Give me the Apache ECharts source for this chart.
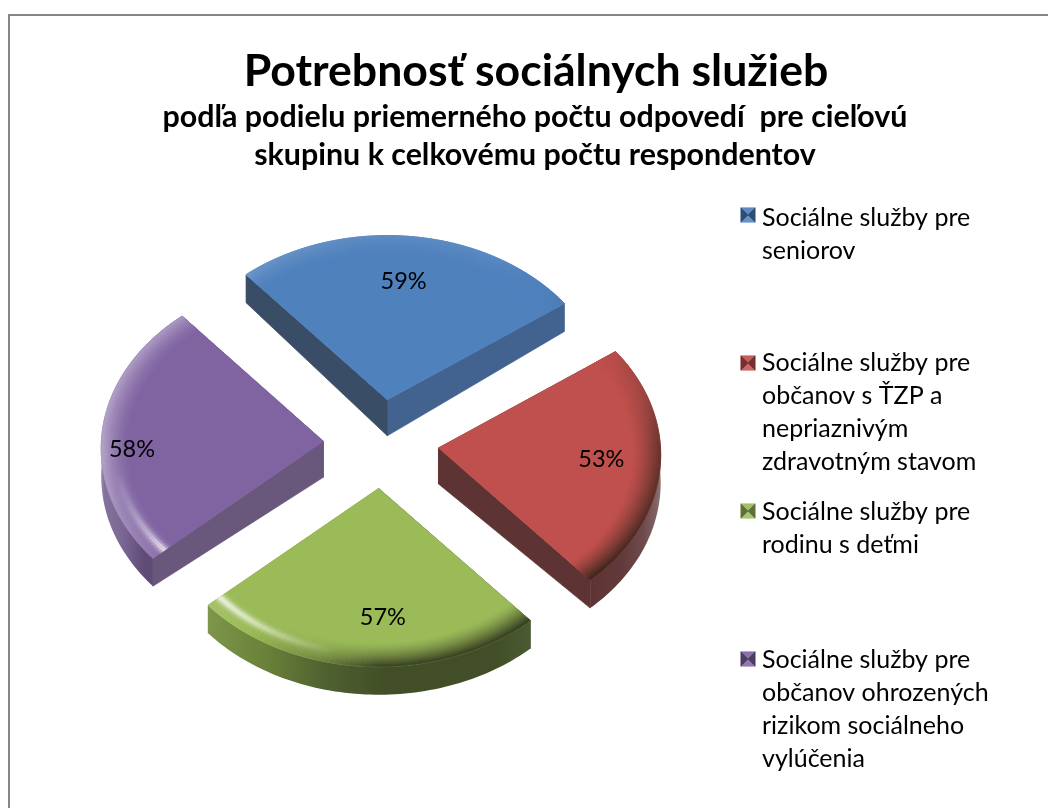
<!DOCTYPE html>
<html>
<head>
<meta charset="utf-8">
<style>html,body{margin:0;padding:0;background:#fff}#c{width:1048px;height:808px}</style>
<script src="https://cdn.jsdelivr.net/npm/echarts@6/dist/echarts.min.js"></script>
</head>
<body>
<div id="c"></div>
<script>
const titleText = 'Potrebnosť sociálnych služieb';
const subtitleText = 'podľa podielu priemerného počtu odpovedí  pre cieľovú\nskupinu k celkovému počtu respondentov';
const categories = [
  'Sociálne služby pre seniorov',
  'Sociálne služby pre občanov s ŤZP a nepriaznivým zdravotným stavom',
  'Sociálne služby pre rodinu s deťmi',
  'Sociálne služby pre občanov ohrozených rizikom sociálneho vylúčenia'
];
const legendLines = [
  'Sociálne služby pre\nseniorov',
  'Sociálne služby pre\nobčanov s ŤZP a\nnepriaznivým\nzdravotným stavom',
  'Sociálne služby pre\nrodinu s deťmi',
  'Sociálne služby pre\nobčanov ohrozených\nrizikom sociálneho\nvylúčenia'
];
const values = [59, 53, 57, 58];
const colors = ['#4f81bd', '#c0504d', '#9bbb59', '#8064a2'];

// drawing layout
const FONT = 'Lato, Carlito, "Open Sans", sans-serif';
const CX = 381, CY = 444, RX = 222, RY = 171, PERSP = 0.041, EXPLODE = 0.26;
const START = 130.5, BAND = 0.13, DEPTH_APEX = 36, DEPTH_RIM = 28;
const boundaryTrim = [0.5, -1.7, -1.4, -0.8, 0.5];
const legendTops = [196, 341, 490, 638];
const keyTops = [208, 356, 504, 652];
const KEY_X = 741, KEY_SIZE = 14;
const labelShift = [[-1, 2], [1, 0], [11, 0], [1, 17]];
const labelRadius = [0.73, 0.73, 0.73, 0.87];
const softScale = [0.55, 1, 1, 1];
// side colours along the visible rim: [angle, colour]
const rimStops = [
  [[-360, '#3f5f88'], [360, '#3f5f88']],
  [[-50, '#5e3333'], [-36, '#633a3b'], [-25, '#6f4a4c'], [-15, '#7f6062'], [-5, '#8a7275'], [2, '#8a7275']],
  [[-140, '#7d964a'], [-120, '#6a8239'], [-103, '#4f6030'], [-88, '#414e27'], [-60, '#414e27'], [-46, '#4b5a30']],
  [[-182, '#928aa2'], [-168, '#84729c'], [-152, '#7a6692'], [-142, '#5f4b76'], [-136, '#5f4b76']]
];
const edgeColors = [
  ['#426290', '#3a4d66'],   // clockwise-end edge, clockwise-start edge
  ['#5e3333', '#5e3333'],
  ['#7d964a', '#4b5a30'],
  ['#69577c', '#69577c']
];
const softStops = [
  [-230, 0.16], [-175, 0.2], [-150, 0.12], [-125, 0], [-105, -0.3], [-90, -0.7], [-60, -0.72], [-46, -0.75],
  [-25, -0.62], [0, -0.5], [18, -0.22], [36, -0.05], [60, 0.06], [100, 0.08], [130, 0.14]
];
const specStops = [
  [-230, 0], [-170, 0], [-156, 0.25], [-146, 0.55], [-138, 0.95], [-128, 0.75], [-115, 0.35], [-102, 0], [130, 0]
];

function rgb(c) { return [1, 3, 5].map(i => parseInt(c.substr(i, 2), 16)); }
function mix(a, b, t) {
  const A = rgb(a), B = rgb(b);
  return '#' + A.map((v, i) => Math.round(v + (B[i] - v) * t).toString(16).padStart(2, '0')).join('');
}
function interp(stops, a, pick) {
  if (a <= stops[0][0]) return stops[0][1];
  for (let i = 1; i < stops.length; i++) {
    if (a <= stops[i][0]) {
      const t = (a - stops[i - 1][0]) / (stops[i][0] - stops[i - 1][0]);
      return pick(stops[i - 1][1], stops[i][1], t);
    }
  }
  return stops[stops.length - 1][1];
}
const lerp = (p, q, t) => p + (q - p) * t;
const total = values.reduce((a, b) => a + b, 0);
function sliceAngles(idx) {
  let s = START;
  for (let i = 0; i < idx; i++) s -= values[i] / total * 360;
  return [s, s - values[idx] / total * 360];
}
function project(apex, deg, r, down) {
  const a = deg * Math.PI / 180, u = Math.cos(a) * r, v = Math.sin(a) * r;
  const w = 1 + PERSP * v;
  return [apex[0] + RX * u / w, apex[1] - RY * v / w + (down || 0)];
}
function poly(points, fill, strokeW) {
  return { type: 'polygon', shape: { points }, silent: true,
    style: { fill, stroke: typeof fill === 'string' ? fill : null, lineWidth: strokeW == null ? 0.7 : strokeW } };
}
function norm(a, stops) {
  while (a < stops[0][0]) a += 360;
  while (a > stops[stops.length - 1][0]) a -= 360;
  return a;
}

function renderSlice(idx) {
  return function () {
    const [rawA0, rawA1] = sliceAngles(idx);
    const a0 = rawA0 + boundaryTrim[idx], a1 = rawA1 + boundaryTrim[idx + 1];
    const mid = (rawA0 + rawA1) / 2, mr = mid * Math.PI / 180;
    const apex = [CX + EXPLODE * RX * Math.cos(mr), CY - EXPLODE * RY * Math.sin(mr)];
    const base = colors[idx];
    const kids = [];
    const N = 72;
    const ang = i => a0 + (a1 - a0) * i / N;
    // radial walls
    [[a1, edgeColors[idx][0]], [a0, edgeColors[idx][1]]].forEach(([a, col]) => {
      kids.push(poly([apex, project(apex, a, 1), project(apex, a, 1, DEPTH_RIM), [apex[0], apex[1] + DEPTH_APEX]], col));
    });
    // outer rim wall, one polygon with a horizontal gradient (front-facing part only)
    const front = [];
    for (let i = 0; i <= N; i++) if (Math.sin(ang(i) * Math.PI / 180) < 0.04) front.push(ang(i));
    if (front.length > 1) {
      const upper = front.map(a => project(apex, a, 1));
      const lower = front.map(a => project(apex, a, 1, DEPTH_RIM)).reverse();
      const xs = upper.map(p => p[0]);
      const xMin = Math.min.apply(null, xs), xMax = Math.max.apply(null, xs);
      const stops = [];
      rimStops[idx].forEach(([a, c]) => {
        const x = project(apex, a, 1)[0];
        const off = (x - xMin) / (xMax - xMin);
        stops.push({ offset: Math.max(0, Math.min(1, off)), color: c });
      });
      stops.sort((p, q) => p.offset - q.offset);
      const grad = new echarts.graphic.LinearGradient(xMin, 0, xMax, 0, stops, true);
      kids.push(poly(upper.concat(lower), grad, 0));
    }
    // flat top
    const top = [apex];
    for (let i = 0; i <= N; i++) top.push(project(apex, ang(i), 1));
    kids.push(poly(top, base));
    // bevel band
    const steps = 12;
    const tint = mix(base, '#ffffff', 0.62);
    for (let i = 0; i < N; i++) {
      const A = ang(i), B = ang(i + 1), M = (A + B) / 2;
      const soft = interp(softStops, norm(M, softStops), lerp) * softScale[idx];
      const spec = interp(specStops, norm(M, specStops), lerp);
      for (let k = 0; k < steps; k++) {
        const r0 = 1 - BAND + BAND * k / steps, r1 = 1 - BAND + BAND * (k + 1) / steps;
        const tt = (k + 0.5) / steps;
        let c = base;
        if (soft >= 0) c = mix(c, tint, Math.min(1, soft * 3.4 * Math.pow(tt, 1.6)));
        else c = mix(c, '#1c1c12', Math.min(1, -soft * 1.1 * Math.pow(tt, 1.4)));
        const g = Math.exp(-Math.pow((tt - 0.5) / 0.15, 2));
        if (spec > 0) c = mix(c, '#ffffff', Math.min(1, spec * g * 0.85));
        kids.push(poly([project(apex, A, r0), project(apex, B, r0), project(apex, B, r1), project(apex, A, r1)], c, 0.8));
      }
    }
    // value label
    const lp = project(apex, mid, labelRadius[idx]);
    kids.push({ type: 'text', silent: true, style: {
      text: values[idx] + '%', x: lp[0] + labelShift[idx][0], y: lp[1] + labelShift[idx][1],
      align: 'center', verticalAlign: 'middle', font: '23.5px ' + FONT, fill: '#000' } });
    // legend key: small bevelled square with a pale outline
    const kx = KEY_X, ky = keyTops[idx], ks = KEY_SIZE, c = [kx + ks / 2, ky + ks / 2];
    const tl = [kx, ky], tr = [kx + ks, ky], br = [kx + ks, ky + ks], bl = [kx, ky + ks];
    kids.push(poly([[kx - 1, ky - 1], [kx + ks + 1, ky - 1], [kx + ks + 1, ky + ks + 1], [kx - 1, ky + ks + 1]], mix(base, '#ffffff', 0.65), 0));
    kids.push(poly([tl, tr, c], mix(base, '#ffffff', 0.08)));
    kids.push(poly([bl, br, c], mix(base, '#ffffff', 0.14)));
    kids.push(poly([tl, bl, c], mix(base, '#000000', 0.4)));
    kids.push(poly([tr, br, c], mix(base, '#000000', 0.4)));
    return { type: 'group', children: kids };
  };
}

const chart = echarts.init(document.getElementById('c'), null, { renderer: 'canvas' });
chart.setOption({
  animation: false,
  backgroundColor: '#fff',
  title: [
    { text: titleText, left: 531, top: 44, textAlign: 'center',
      textStyle: { fontFamily: FONT, fontSize: 44.6, fontWeight: 'bold', color: '#000' } },
    { text: subtitleText, left: 530, top: 93, textAlign: 'center',
      textStyle: { fontFamily: FONT, fontSize: 30.4, fontWeight: 'bold', color: '#000', lineHeight: 38 } }
  ],
  legend: categories.map((name, i) => ({
    data: [name], orient: 'vertical', left: 741, top: legendTops[i],
    itemWidth: 14, itemHeight: 14, itemGap: 0, icon: 'rect', selectedMode: false,
    align: 'left',
    itemStyle: { opacity: 0 },
    formatter: () => legendLines[i],
    textStyle: { fontFamily: FONT, fontSize: 25, lineHeight: 33, color: '#000', padding: [0, 0, 0, -3] }
  })),
  graphic: [
    { type: 'polyline', z: 20, silent: true, shape: { points: [[9, 808], [9, 15], [1048, 15]] },
      style: { stroke: '#868686', lineWidth: 2, fill: null } }
  ],
  series: categories.map((name, i) => ({
    type: 'custom', name, coordinateSystem: 'none',
    itemStyle: { color: colors[i] },
    data: [values[i]],
    renderItem: renderSlice(i),
    silent: true
  }))
});
</script>
</body>
</html>
